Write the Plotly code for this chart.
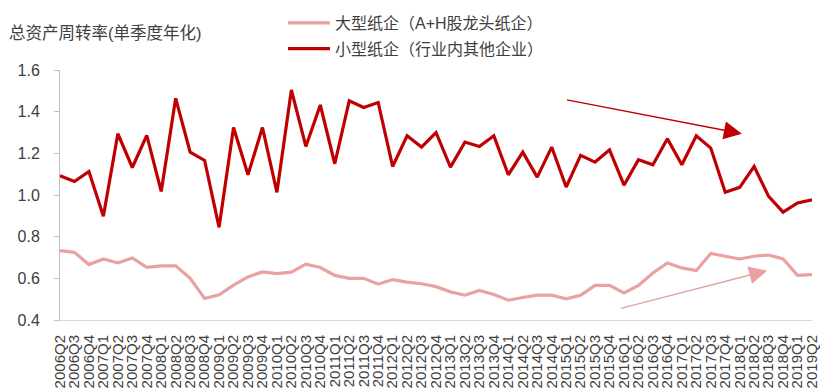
import plotly.graph_objects as go

quarters = [f"{y}Q{q}" for y in range(2006, 2020) for q in range(1, 5)]
quarters = quarters[1:quarters.index("2019Q2") + 1]

large = [0.733, 0.725, 0.666, 0.693, 0.674, 0.698, 0.653, 0.660, 0.660, 0.600,
         0.503, 0.521, 0.567, 0.607, 0.631, 0.623, 0.630, 0.668, 0.652, 0.614,
         0.600, 0.600, 0.572, 0.594, 0.582, 0.574, 0.560, 0.535, 0.519, 0.542,
         0.522, 0.495, 0.508, 0.519, 0.519, 0.502, 0.519, 0.566, 0.566, 0.530,
         0.566, 0.626, 0.674, 0.650, 0.637, 0.719, 0.706, 0.693, 0.706, 0.712,
         0.693, 0.614, 0.618]
small = [1.092, 1.065, 1.113, 0.898, 1.294, 1.132, 1.286, 1.017, 1.464, 1.206,
         1.166, 0.845, 1.324, 1.097, 1.324, 1.013, 1.504, 1.233, 1.432, 1.150,
         1.452, 1.420, 1.444, 1.137, 1.284, 1.230, 1.300, 1.134, 1.254, 1.233,
         1.284, 1.097, 1.206, 1.086, 1.230, 1.038, 1.190, 1.158, 1.217, 1.047,
         1.169, 1.145, 1.270, 1.145, 1.284, 1.225, 1.013, 1.037, 1.137, 0.993,
         0.918, 0.962, 0.977]

names = ["大型纸企（A+H股龙头纸企）", "小型纸企（行业内其他企业）"]
colors = ["#E9A1A1", "#C00000"]
y_title = "总资产周转率(单季度年化)"

fig = go.Figure()
for i, (vals, name, col) in enumerate(zip([large, small], names, colors)):
    fig.add_trace(go.Scatter(x=quarters, y=vals, mode="lines", name=name,
                             legendgroup=str(i),
                             line=dict(color=col, width=3.2)))

# trend arrows (positions given by category index / value)
arrows = [
    dict(x0=34.95, y0=1.458, x1=47.15, y1=1.294, color="#C00000"),
    dict(x0=38.68, y0=0.454, x1=48.9, y1=0.637, color="#E9A1A1"),
]
for a in arrows:
    fig.add_annotation(x=a["x1"], y=a["y1"], ax=a["x0"], ay=a["y0"],
                       xref="x", yref="y", axref="x", ayref="y",
                       showarrow=True, arrowhead=2, arrowsize=2.4,
                       arrowwidth=1.5, arrowcolor=a["color"], text="")

fig.add_annotation(text=y_title, xref="paper", yref="paper",
                   x=-53 / 752, y=287 / 250, xanchor="left", yanchor="middle",
                   showarrow=False, font=dict(size=16.5, color="#404040"))

fig.update_layout(
    width=820, height=389,
    margin=dict(l=60, r=8, t=70, b=69, autoexpand=False),
    paper_bgcolor="white", plot_bgcolor="white",
    font=dict(family="Liberation Sans, Arial, Noto Sans CJK SC", color="#404040"),
    showlegend=True,
    legend=dict(xref="container", yref="container", x=283 / 820, y=1 - 6 / 389,
                xanchor="left", yanchor="top", font=dict(size=16, color="#404040"),
                itemwidth=42, tracegroupgap=2, bgcolor="rgba(0,0,0,0)"),
    xaxis=dict(type="category", tickangle=-90, showgrid=False, ticks="",
               tickmode="linear", tick0=0, dtick=1, ticklabelstandoff=8,
               showline=True, linecolor="#D9D9D9", linewidth=1,
               tickfont=dict(size=15, color="#404040")),
    yaxis=dict(range=[0.4, 1.6], dtick=0.2, tickformat=".1f", showgrid=False,
               zeroline=False, showline=True, linecolor="#BFBFBF", linewidth=1,
               ticks="outside", ticklen=5, tickcolor="#BFBFBF",
               ticklabelstandoff=11,
               tickfont=dict(size=16, color="#404040")),
)

fig.write_html("out.html")
